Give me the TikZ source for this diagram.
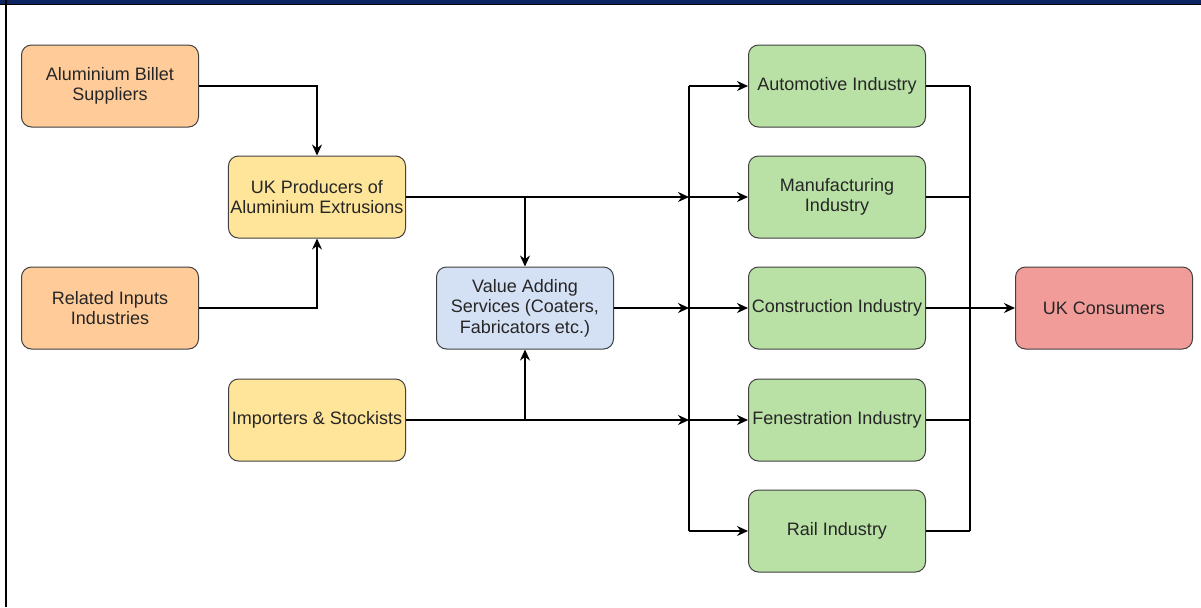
\documentclass[tikz,border=0pt]{standalone}
\usepackage{fontspec}
\setmainfont{Liberation Sans}
\usetikzlibrary{arrows.meta}
\definecolor{supplierfill}{HTML}{FFCC99}
\definecolor{producerfill}{HTML}{FFE599}
\definecolor{servicefill}{HTML}{D4E1F5}
\definecolor{industryfill}{HTML}{B9E0A5}
\definecolor{consumerfill}{HTML}{F19C99}
\definecolor{framebar}{HTML}{0C2461}

\begin{document}
\begin{tikzpicture}
  [x=0.5pt,y=-0.5pt,
   box/.style={rectangle, rounded corners=5pt, draw=black!75, line width=0.5pt,
     minimum width=88.5pt, minimum height=41pt, inner sep=1pt, align=center,
     text=black!85, font=\fontsize{9}{10.2}\selectfont},
   link/.style={line width=0.7pt},
   arr/.style={link, -{Stealth[length=5.5pt,width=5pt,inset=1.8pt]}}]
  \useasboundingbox (0,0) rectangle (1201,607);
  % frame
  \fill[framebar] (0,0) rectangle (1201,3.5);
  \fill[black] (0,3.5) rectangle (1201,4.8);
  \fill[black] (5,0) rectangle (7.2,607);

  % suppliers and producers
  \node[box, fill=supplierfill] (billet) at (110,86) {Aluminium Billet\\Suppliers};
  \node[box, fill=producerfill] (producers) at (317,197) {UK Producers of\\Aluminium Extrusions};
  \node[box, fill=supplierfill] (related) at (110,308) {Related Inputs\\Industries};
  \node[box, fill=producerfill] (importers) at (317,420) {Importers \& Stockists};
  \node[box, fill=servicefill] (valueadd) at (525,308) {Value Adding\\Services (Coaters,\\Fabricators etc.)};

  % industries
  \node[box, fill=industryfill] (auto) at (837,86) {Automotive Industry};
  \node[box, fill=industryfill] (manuf) at (837,197) {Manufacturing\\Industry};
  \node[box, fill=industryfill] (constr) at (837,308) {Construction Industry};
  \node[box, fill=industryfill] (fenes) at (837,420) {Fenestration Industry};
  \node[box, fill=industryfill] (rail) at (837,531) {Rail Industry};
  \node[box, fill=consumerfill] (consumers) at (1104,308) {UK Consumers};

  \coordinate (busL) at (689,308);
  \coordinate (busR) at (970,308);

  \draw[arr] (billet.east) -| (producers.north);
  \draw[arr] (related.east) -| (producers.south);
  \draw[arr] (producers.east) -- (producers.east -| busL);
  \draw[arr] (valueadd.north |- producers.east) -- (valueadd.north);
  \draw[arr] (valueadd.south |- importers.east) -- (valueadd.south);
  \draw[arr] (valueadd.east) -- (valueadd.east -| busL);
  \draw[arr] (importers.east) -- (importers.east -| busL);

  \draw[link] (busL |- auto) -- (busL |- rail);
  \foreach \ind in {auto,manuf,constr,fenes,rail}
    \draw[arr] (busL |- \ind) -- (\ind.west);

  \foreach \ind in {auto,manuf,fenes,rail}
    \draw[link] (\ind.east) -- (busR |- \ind);
  \draw[link] (busR |- auto) -- (busR |- rail);
  \draw[arr] (constr.east) -- (consumers.west);
\end{tikzpicture}
\end{document}
